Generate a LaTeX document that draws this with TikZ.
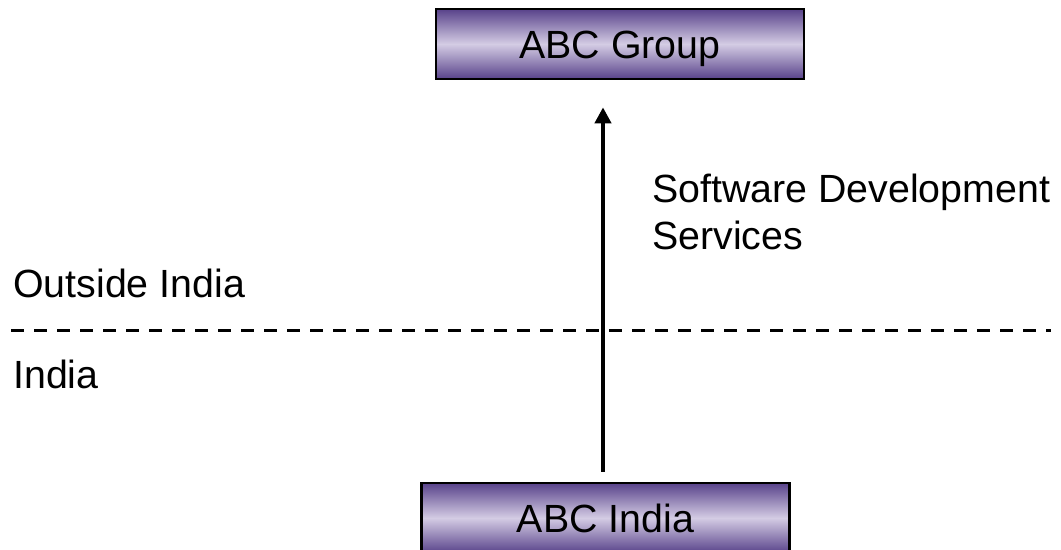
\documentclass[tikz,border=0pt]{standalone}
\usepackage{fontspec}
\setmainfont{Liberation Sans}
\usetikzlibrary{arrows.meta,positioning,calc}
\definecolor{boxdark}{RGB}{88,66,138}
\definecolor{boxlight}{RGB}{212,204,228}
\begin{document}
\begin{tikzpicture}[
    x=0.75pt, y=-0.75pt,
    entity/.style={draw=black, line width=2pt, minimum width=276pt, minimum height=52.5pt, inner sep=0pt,
        text height=21pt, text depth=0pt,
        top color=boxdark, bottom color=boxdark, middle color=boxlight, font=\fontsize{29.5}{33}\selectfont},
    flow/.style={-{Triangle[length=12pt,width=12pt]}, line width=3pt},
    border/.style={line width=2.25pt, dash pattern=on 9.75pt off 7.5pt},
    lbl/.style={font=\fontsize{29.5}{35}\selectfont, inner sep=0pt, align=left}
]
\useasboundingbox (0,0) rectangle (1061,550);
\node[entity] (group) at (620,44) {ABC Group};
\node[entity] (india) at (605.5,518) {ABC India};

% jurisdiction line
\coordinate (bl) at (11,330);
\coordinate (br) at (1051,330);
\draw[border] (bl) -- (br);
\node[lbl, anchor=base west] (outside) at (13,297) {Outside India};
\node[lbl, anchor=base west] (inside) at (13,388) {India};

\draw[flow] ($(india.north)+(-2.5,-10)$) -- ($(group.south)+(-17,27)$);
\node[lbl, anchor=north west] (service) at (652,174) {Software Development\\Services};
\end{tikzpicture}
\end{document}
